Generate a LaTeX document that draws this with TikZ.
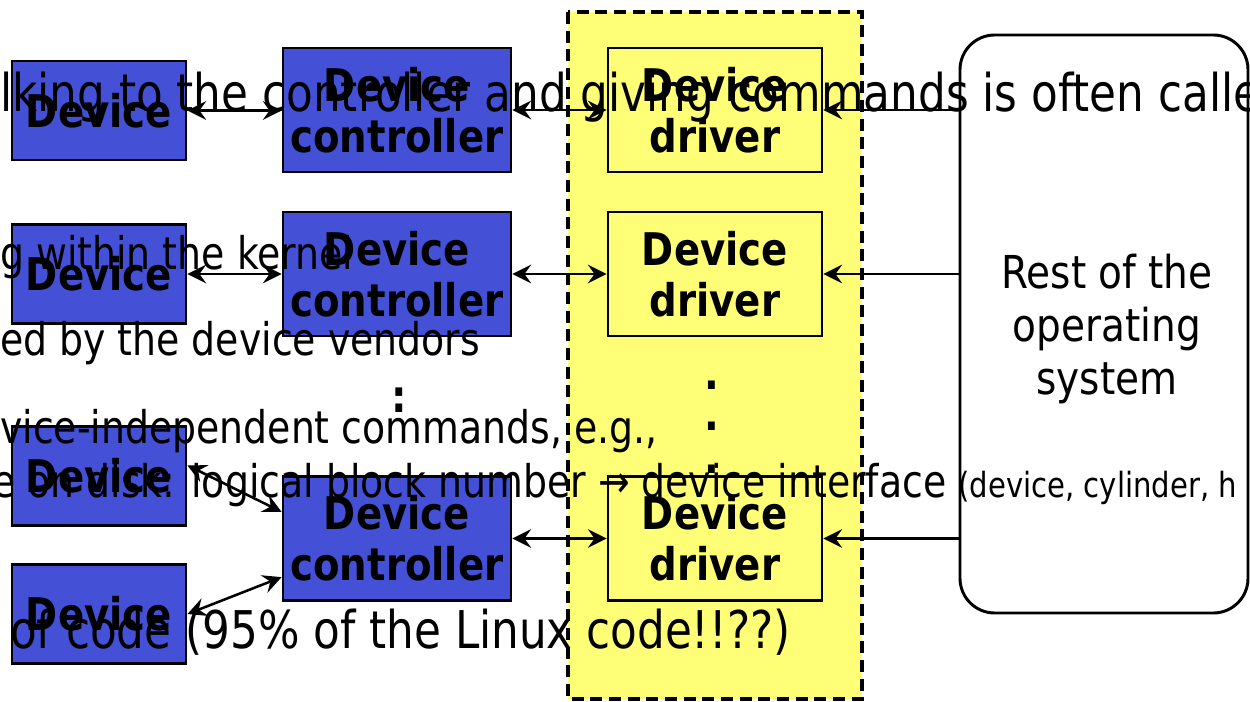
\documentclass[tikz,border=0pt]{standalone}
\usepackage{fontspec}
\setmainfont[FakeStretch=0.86]{DejaVu Sans}
\newfontfamily\slidefont[FakeStretch=0.84]{DejaVu Sans}
\usetikzlibrary{arrows.meta}

\definecolor{devblue}{RGB}{68,80,214}
\definecolor{drvyellow}{RGB}{255,255,119}
\newcommand{\boxfont}{\bfseries\fontsize{33.75}{38}\selectfont}

\begin{document}
\begin{tikzpicture}[x=0.75pt,y=-0.75pt,
    dev/.style={draw,line width=2.2pt,fill=devblue,minimum width=130.5pt,minimum height=74.25pt,inner sep=0pt,font=\boxfont},
    ctrl/.style={draw,line width=2.2pt,fill=devblue,minimum width=171pt,minimum height=93pt,inner sep=0pt,align=center,font=\boxfont},
    drv/.style={draw,line width=2.2pt,fill=drvyellow,minimum width=160.5pt,minimum height=93pt,inner sep=0pt,align=center,font=\boxfont},
    osbox/.style={draw,line width=2.2pt,rounded corners=26pt,minimum width=216pt,minimum height=433.5pt,inner sep=0pt},
    link/.style={line width=1.9pt,{Stealth[length=14pt,width=14pt,inset=5pt]}-{Stealth[length=14pt,width=14pt,inset=5pt]}},
    feed/.style={line width=1.9pt,-{Stealth[length=14pt,width=14pt,inset=5pt]}},
    slide/.style={anchor=base west,inner sep=0pt,font=\slidefont\fontsize{33.75}{40}\selectfont},
    bigslide/.style={slide,font=\slidefont\fontsize{39}{46}\selectfont}]
    \useasboundingbox (0,0) rectangle (1250,702);
    \clip (0,0) rectangle (1250,702);

    % kernel band
    \draw[fill=drvyellow,line width=2.5pt,dash pattern=on 9pt off 5pt] (568,12) rectangle (862,699);

    % devices
    \node[dev] (d1) at (99,110.5) {Device};
    \node[dev] (d2) at (99,274) {Device};
    \node[dev] (d3) at (99,476) {Device};
    \node[dev] (d4) at (99,614) {Device};

    % controllers
    \node[ctrl] (c1) at (397,110) {Device\\controller};
    \node[ctrl] (c2) at (397,274) {Device\\controller};
    \node[ctrl] (c3) at (397,538.5) {Device\\controller};

    % drivers
    \node[drv] (r1) at (715,110) {Device\\driver};
    \node[drv] (r2) at (715,274) {Device\\driver};
    \node[drv] (r3) at (715,538.5) {Device\\driver};

    \node[osbox] (os) at (1104,324) {};
    \node[align=center,inner sep=0pt,font=\fontsize{34}{40}\selectfont] (ostext) at (1107,329) {Rest of the\\operating\\system};

    \draw[link] (d1.east) -- (d1.east -| c1.west);
    \draw[link] (d2.east) -- (d2.east -| c2.west);
    \draw[link] ([yshift=8pt]d3.east) -- ([yshift=20pt]c3.west);
    \draw[link] (d4.east) -- ([yshift=-29pt]c3.west);
    \draw[link] (c1) -- (r1);
    \draw[link] (c2) -- (r2);
    \draw[link] (c3) -- (r3);
    \draw[feed] (r1.east -| os.west) -- (r1.east);
    \draw[feed] (r2.east -| os.west) -- (r2.east);
    \draw[feed] (r3.east -| os.west) -- (r3.east);

    \node[anchor=base,inner sep=0pt,font=\boxfont] (cdots) at (399,412) {:};
    \foreach \y in {389,431,473}
        \node[anchor=base,inner sep=0pt,font=\boxfont] (rdot\y) at (712,\y) {.};

    % slide text showing through
    \node[bigslide] (t1) at (0,112) {lking to the controller and giving commands is often calle};
    \node[slide] (t2) at (0,270) {g within the kernel};
    \node[slide] (t3) at (0,356) {ed by the device vendors};
    \node[slide] (t4) at (0,443) {vice-independent commands, e.g.,};
    \node[slide] (t5) at (-8,497) {e on disk: logical block number → device interface {\fontsize{26}{30}\selectfont (device, cylinder, h}};
    \node[bigslide] (t6) at (10,648) {of code (95\% of the Linux code!!??)};
\end{tikzpicture}
\end{document}
